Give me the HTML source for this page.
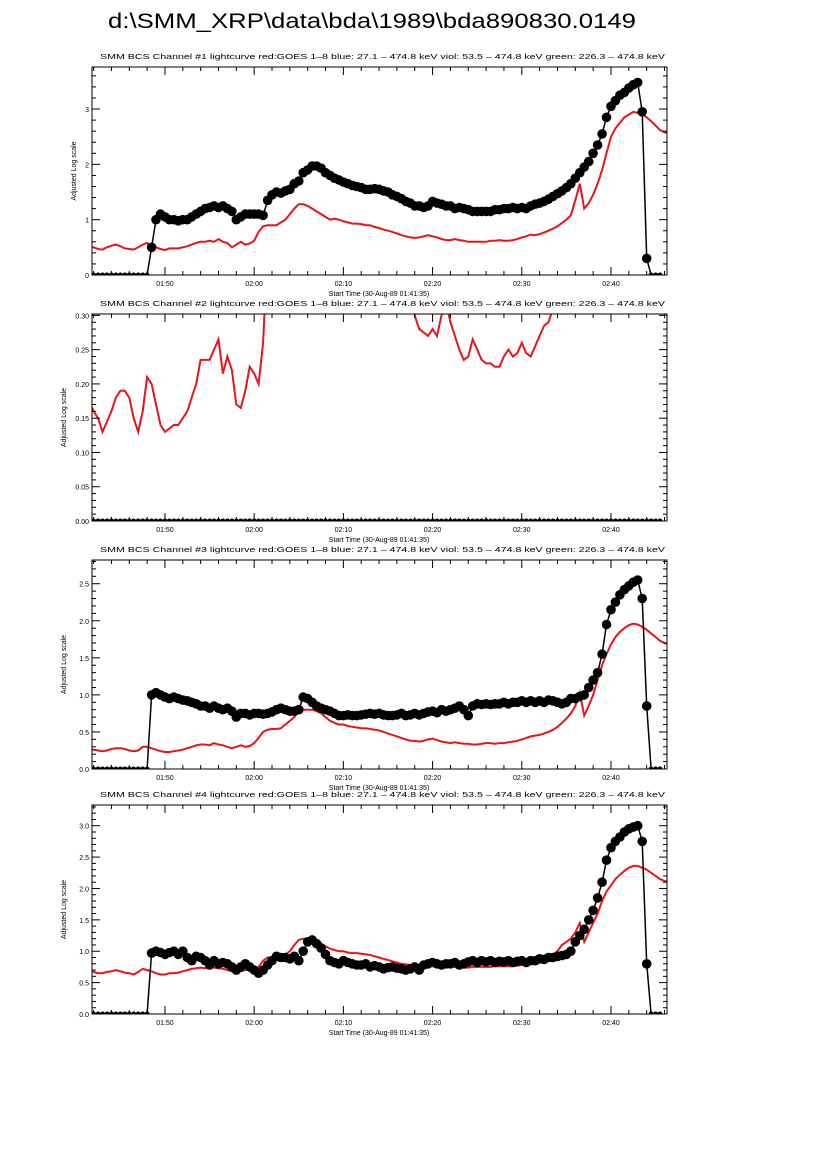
<!DOCTYPE html>
<html><head><meta charset="utf-8"><style>
html,body{margin:0;padding:0;background:#fff;}
svg{display:block;font-family:"Liberation Sans",sans-serif;}
</style></head><body>
<svg id="fig" width="826" height="1169" viewBox="0 0 826 1169">
<text x="108" y="28" font-size="21" textLength="528" lengthAdjust="spacingAndGlyphs">d:\SMM_XRP\data\bda\1989\bda890830.0149</text>
</svg>
<script>
// time grid: minutes after 01:40:00, start 1.5, step 0.5
const tStart = 1.5, tStep = 0.5;
const xTickLabels = ["01:50","02:00","02:10","02:20","02:30","02:40"];
const xTickMinutes = [10,20,30,40,50,60];
const p1Black = [0,0,0,0,0,0,0,0,0,0,
 0,0,0,0,0.5,1.0,1.1,1.05,1.0,1.0,
 0.98,1.0,1.0,1.05,1.1,1.15,1.2,1.22,1.25,1.22,
 1.25,1.2,1.15,1.0,1.05,1.1,1.1,1.1,1.1,1.08,
 1.35,1.45,1.5,1.48,1.52,1.55,1.65,1.7,1.85,1.9,
 1.97,1.97,1.93,1.85,1.8,1.75,1.72,1.68,1.65,1.62,
 1.6,1.58,1.55,1.55,1.56,1.55,1.52,1.5,1.45,1.42,
 1.38,1.33,1.3,1.25,1.25,1.22,1.25,1.33,1.3,1.28,
 1.25,1.25,1.2,1.22,1.2,1.18,1.15,1.15,1.15,1.15,
 1.15,1.18,1.18,1.2,1.2,1.22,1.2,1.22,1.2,1.25,
 1.28,1.3,1.33,1.37,1.42,1.47,1.52,1.58,1.65,1.75,
 1.85,1.95,2.05,2.2,2.35,2.55,2.85,3.05,3.15,3.25,
 3.3,3.38,3.44,3.48,2.95,0.3,0,0,0];
const p1Red = [0.5,0.5,0.47,0.46,0.5,0.53,0.55,0.52,0.48,0.47,
 0.46,0.5,0.55,0.58,0.52,0.5,0.47,0.45,0.48,0.48,
 0.48,0.5,0.52,0.55,0.58,0.6,0.6,0.62,0.6,0.65,
 0.6,0.58,0.5,0.55,0.6,0.55,0.57,0.62,0.78,0.88,
 0.9,0.9,0.9,0.95,1.0,1.1,1.2,1.28,1.28,1.25,
 1.2,1.15,1.1,1.05,1.0,1.02,1.0,0.97,0.95,0.93,
 0.93,0.92,0.9,0.9,0.87,0.85,0.82,0.8,0.78,0.75,
 0.72,0.7,0.68,0.67,0.68,0.7,0.72,0.7,0.68,0.65,
 0.63,0.63,0.65,0.63,0.62,0.6,0.6,0.6,0.6,0.6,
 0.62,0.62,0.63,0.62,0.62,0.63,0.65,0.68,0.7,0.73,
 0.72,0.74,0.77,0.8,0.84,0.88,0.94,1.0,1.08,1.35,
 1.65,1.2,1.3,1.45,1.65,1.9,2.2,2.5,2.65,2.75,
 2.85,2.9,2.95,2.93,2.9,2.85,2.78,2.7,2.62,2.58,2.55];
const p2Black = [0,0,0,0,0,0,0,0,0,0, 0,0,0,0,0,0,0,0,0,0, 0,0,0,0,0,0,0,0,0,0,
 0,0,0,0,0,0,0,0,0,0, 0,0,0,0,0,0,0,0,0,0, 0,0,0,0,0,0,0,0,0,0,
 0,0,0,0,0,0,0,0,0,0, 0,0,0,0,0,0,0,0,0,0, 0,0,0,0,0,0,0,0,0,0,
 0,0,0,0,0,0,0,0,0,0, 0,0,0,0,0,0,0,0,0,0, 0,0,0,0,0,0,0,0,0,0, 0,0,0,0,0,0,0,0,0];
const p2Red = [0.175,0.16,0.15,0.13,0.145,0.16,0.18,0.19,0.19,0.18,
 0.15,0.13,0.16,0.21,0.2,0.17,0.14,0.13,0.135,0.14,
 0.14,0.15,0.16,0.18,0.2,0.235,0.235,0.235,0.25,0.265,
 0.215,0.24,0.22,0.17,0.165,0.19,0.225,0.215,0.2,0.26,
 0.4,0.4,0.4,0.4,0.4,0.4,0.4,0.4,0.4,0.4,0.4,0.4,0.4,0.4,0.4,0.4,0.4,
 0.4,0.4,0.4,0.4,0.4,0.4,0.4,0.4,0.4,0.4,0.4,0.4,0.4,0.4,0.4,0.4,
 0.3,0.28,0.275,0.27,0.28,0.27,0.3,0.32,0.29,0.27,0.25,0.235,0.24,0.265,0.25,0.235,
 0.23,0.23,0.225,0.225,0.24,0.25,0.24,0.245,0.26,0.245,0.24,0.255,0.27,0.285,0.29,0.31,
 0.5,0.5,0.5,0.5,0.5,0.5,0.5,0.5,0.5,0.5,0.5,0.5,0.5,0.5,0.5,0.5,0.5,0.5,0.5,0.5,0.5,0.5,0.5,0.5,0.5,0.5];
const p3Black = [0,0,0,0,0,0,0,0,0,0,
 0,0,0,0,1.0,1.03,1.0,0.97,0.95,0.97,
 0.95,0.93,0.92,0.9,0.88,0.85,0.85,0.82,0.85,0.82,
 0.8,0.82,0.78,0.7,0.75,0.75,0.73,0.75,0.75,0.74,
 0.75,0.77,0.8,0.82,0.8,0.78,0.78,0.8,0.97,0.95,
 0.9,0.85,0.82,0.8,0.78,0.75,0.72,0.72,0.73,0.72,
 0.72,0.73,0.74,0.75,0.74,0.75,0.73,0.72,0.72,0.73,
 0.75,0.72,0.73,0.75,0.73,0.75,0.77,0.78,0.76,0.8,
 0.78,0.8,0.82,0.85,0.8,0.72,0.85,0.88,0.87,0.88,
 0.87,0.88,0.88,0.9,0.88,0.9,0.9,0.92,0.9,0.92,
 0.9,0.92,0.9,0.93,0.92,0.9,0.88,0.9,0.95,0.95,
 0.98,1.0,1.1,1.2,1.3,1.55,1.95,2.15,2.25,2.35,
 2.42,2.47,2.52,2.55,2.3,0.85,0,0,0];
const p3Red = [0.27,0.26,0.25,0.24,0.25,0.27,0.28,0.28,0.27,0.25,
 0.24,0.25,0.3,0.3,0.28,0.26,0.24,0.23,0.23,0.24,
 0.25,0.26,0.28,0.3,0.32,0.33,0.33,0.32,0.35,0.33,
 0.32,0.3,0.28,0.3,0.32,0.3,0.31,0.35,0.42,0.5,
 0.53,0.54,0.54,0.55,0.6,0.65,0.7,0.78,0.8,0.8,
 0.8,0.78,0.75,0.7,0.65,0.62,0.6,0.6,0.58,0.57,
 0.56,0.55,0.55,0.54,0.53,0.52,0.5,0.48,0.46,0.44,
 0.42,0.4,0.38,0.38,0.37,0.38,0.4,0.41,0.39,0.37,
 0.36,0.35,0.36,0.35,0.34,0.34,0.33,0.33,0.34,0.35,
 0.35,0.34,0.35,0.35,0.36,0.37,0.38,0.4,0.42,0.44,
 0.45,0.46,0.48,0.5,0.53,0.57,0.62,0.68,0.75,0.85,
 1.03,0.72,0.85,1.0,1.2,1.4,1.55,1.68,1.78,1.85,
 1.9,1.94,1.96,1.95,1.92,1.88,1.83,1.78,1.73,1.7,1.68];
const p4Black = [0,0,0,0,0,0,0,0,0,0,
 0,0,0,0,0.97,1.0,0.98,0.95,0.98,1.0,
 0.95,1.0,0.9,0.85,0.92,0.9,0.85,0.78,0.85,0.8,
 0.82,0.8,0.75,0.7,0.75,0.8,0.75,0.7,0.65,0.7,
 0.78,0.85,0.92,0.9,0.9,0.88,0.92,0.85,1.0,1.15,
 1.18,1.12,1.05,0.95,0.85,0.82,0.8,0.85,0.82,0.8,
 0.78,0.78,0.8,0.75,0.77,0.75,0.72,0.74,0.75,0.73,
 0.72,0.7,0.72,0.75,0.7,0.78,0.8,0.82,0.8,0.78,
 0.8,0.8,0.82,0.78,0.8,0.83,0.85,0.82,0.85,0.83,
 0.85,0.82,0.84,0.83,0.85,0.82,0.84,0.85,0.82,0.85,
 0.85,0.88,0.87,0.9,0.9,0.92,0.93,0.95,1.0,1.15,
 1.25,1.35,1.5,1.65,1.85,2.1,2.45,2.65,2.75,2.82,
 2.9,2.95,2.98,3.0,2.75,0.8,0,0,0];
const p4Red = [0.68,0.67,0.65,0.65,0.67,0.68,0.7,0.68,0.66,0.65,
 0.63,0.67,0.72,0.7,0.68,0.65,0.63,0.63,0.65,0.65,
 0.66,0.68,0.7,0.72,0.73,0.74,0.73,0.75,0.74,0.73,
 0.72,0.7,0.68,0.66,0.68,0.7,0.72,0.7,0.75,0.85,
 0.9,0.9,0.92,0.92,0.95,1.0,1.1,1.18,1.2,1.2,
 1.18,1.15,1.12,1.08,1.04,1.02,1.0,1.0,0.98,0.97,
 0.97,0.96,0.95,0.94,0.92,0.9,0.88,0.86,0.84,0.82,
 0.8,0.79,0.78,0.78,0.78,0.79,0.8,0.79,0.78,0.77,
 0.76,0.75,0.75,0.74,0.74,0.74,0.75,0.75,0.75,0.75,
 0.75,0.76,0.76,0.76,0.76,0.76,0.77,0.78,0.8,0.82,
 0.82,0.84,0.86,0.9,0.95,1.0,1.1,1.15,1.2,1.3,
 1.45,1.15,1.3,1.45,1.6,1.8,1.95,2.05,2.15,2.22,
 2.28,2.33,2.36,2.36,2.33,2.3,2.25,2.2,2.15,2.12,2.1];
const p1YTicks = ["0","1","2","3"];
const p2YTicks = ["0.00","0.05","0.10","0.15","0.20","0.25","0.30"];
const p3YTicks = ["0.0","0.5","1.0","1.5","2.0","2.5"];
const p4YTicks = ["0.0","0.5","1.0","1.5","2.0","2.5","3.0"];

const NS = "http://www.w3.org/2000/svg";
const svg = document.getElementById("fig");
const X0 = 92, X1 = 667, XMIN = 1.82, XMAX = 66.28;
function mk(tag, attrs, parent){ const e=document.createElementNS(NS,tag); for(const k in attrs) e.setAttribute(k,attrs[k]); (parent||svg).appendChild(e); return e; }
function sx(m){ return X0 + (m - XMIN) / (XMAX - XMIN) * (X1 - X0); }
const panels = [
 {n:1, top:67, bot:275, ymax:3.76, yt:p1YTicks, major:1, minor:0.2, black:p1Black, red:p1Red},
 {n:2, top:314, bot:521, ymax:0.302, yt:p2YTicks, major:0.05, minor:0.01, black:p2Black, red:p2Red},
 {n:3, top:560, bot:769, ymax:2.82, yt:p3YTicks, major:0.5, minor:0.1, black:p3Black, red:p3Red},
 {n:4, top:805, bot:1014, ymax:3.33, yt:p4YTicks, major:0.5, minor:0.1, black:p4Black, red:p4Red}
];
panels.forEach(p => {
  const g = mk("g", {});
  
  
  const sy = v => p.bot - v / p.ymax * (p.bot - p.top);
  const t = mk("text", {x:100, y:p.top-8, "font-size":7.5, textLength:565, lengthAdjust:"spacingAndGlyphs"}, g);
  t.textContent = "SMM BCS Channel #" + p.n + " lightcurve  red:GOES 1\u20138  blue: 27.1 \u2013 474.8 keV  viol: 53.5 \u2013 474.8 keV  green: 226.3 \u2013 474.8 keV";
  
  
  const clipId = "clip" + p.n;
  const cp = mk("clipPath", {id:clipId}, g);
  mk("rect", {x:X0, y:p.top, width:X1-X0, height:p.bot-p.top}, cp);
  const pg = mk("g", {"clip-path":"url(#"+clipId+")"}, g);
  let d = "";
  p.red.forEach((v,i)=>{ d += (i?"L":"M") + sx(tStart+i*tStep).toFixed(1) + "," + sy(v).toFixed(1); });
  const rl = mk("path", {d:d, fill:"none", stroke:"#e8141a", "stroke-width":2}, pg);
  
  
  let db = "";
  p.black.forEach((v,i)=>{ db += (i?"L":"M") + sx(tStart+i*tStep).toFixed(1) + "," + sy(v).toFixed(1); });
  const bl = mk("path", {d:db, fill:"none", stroke:"#000", "stroke-width":1.5}, pg);
  
  
  p.black.forEach((v,i)=>{
    const c = mk("circle", {cx:sx(tStart+i*tStep).toFixed(1), cy:sy(v).toFixed(1), r: v>0?4.8:2.5, fill:"#000"}, pg);
    
    
  });
  const box = mk("rect", {x:X0, y:p.top, width:X1-X0, height:p.bot-p.top, fill:"none", stroke:"#000", "stroke-width":1}, g);
  
  
  const nMin = Math.round(p.ymax / p.minor + 1e-6);
  for(let k=0;k<=nMin;k++){
    const v = k*p.minor; if (v > p.ymax) break;
    const isMaj = Math.abs(v/p.major - Math.round(v/p.major)) < 1e-6;
    const L = isMaj ? 8 : 4, y = sy(v);
    mk("line",{x1:X0,x2:X0+L,y1:y,y2:y,stroke:"#000","stroke-width":1},g);
    mk("line",{x1:X1,x2:X1-L,y1:y,y2:y,stroke:"#000","stroke-width":1},g);
  }
  p.yt.forEach((lab,k)=>{
    const tl = mk("text",{x:X0-3,y:sy(k*p.major)+3,"font-size":7,"text-anchor":"end"},g);
    tl.textContent = lab;
    
    
  });
  for(let m=2;m<=XMAX;m+=2){
    const isMaj = m % 10 === 0; const L = isMaj ? 8 : 4; const x = sx(m);
    mk("line",{x1:x,x2:x,y1:p.bot,y2:p.bot-L,stroke:"#000","stroke-width":1},g);
    mk("line",{x1:x,x2:x,y1:p.top,y2:p.top+L,stroke:"#000","stroke-width":1},g);
  }
  xTickLabels.forEach((lab,k)=>{
    const tl = mk("text",{x:sx(xTickMinutes[k]),y:p.bot+11,"font-size":7,"text-anchor":"middle"},g);
    tl.textContent = lab;
    
    
  });
  const xt = mk("text",{x:379,y:p.bot+21,"font-size":7,"text-anchor":"middle"},g);
  xt.textContent = "Start Time (30-Aug-89 01:41:35)";
  
  
  const cy = (p.top+p.bot)/2;
  const yt = mk("text",{x:0,y:0,"font-size":7,"text-anchor":"middle",transform:"translate(" + (p.n===1?76:66) + "," + cy + ") rotate(-90)"},g);
  yt.textContent = "Adjusted Log scale";
  
  
});
</script>
</body></html>
